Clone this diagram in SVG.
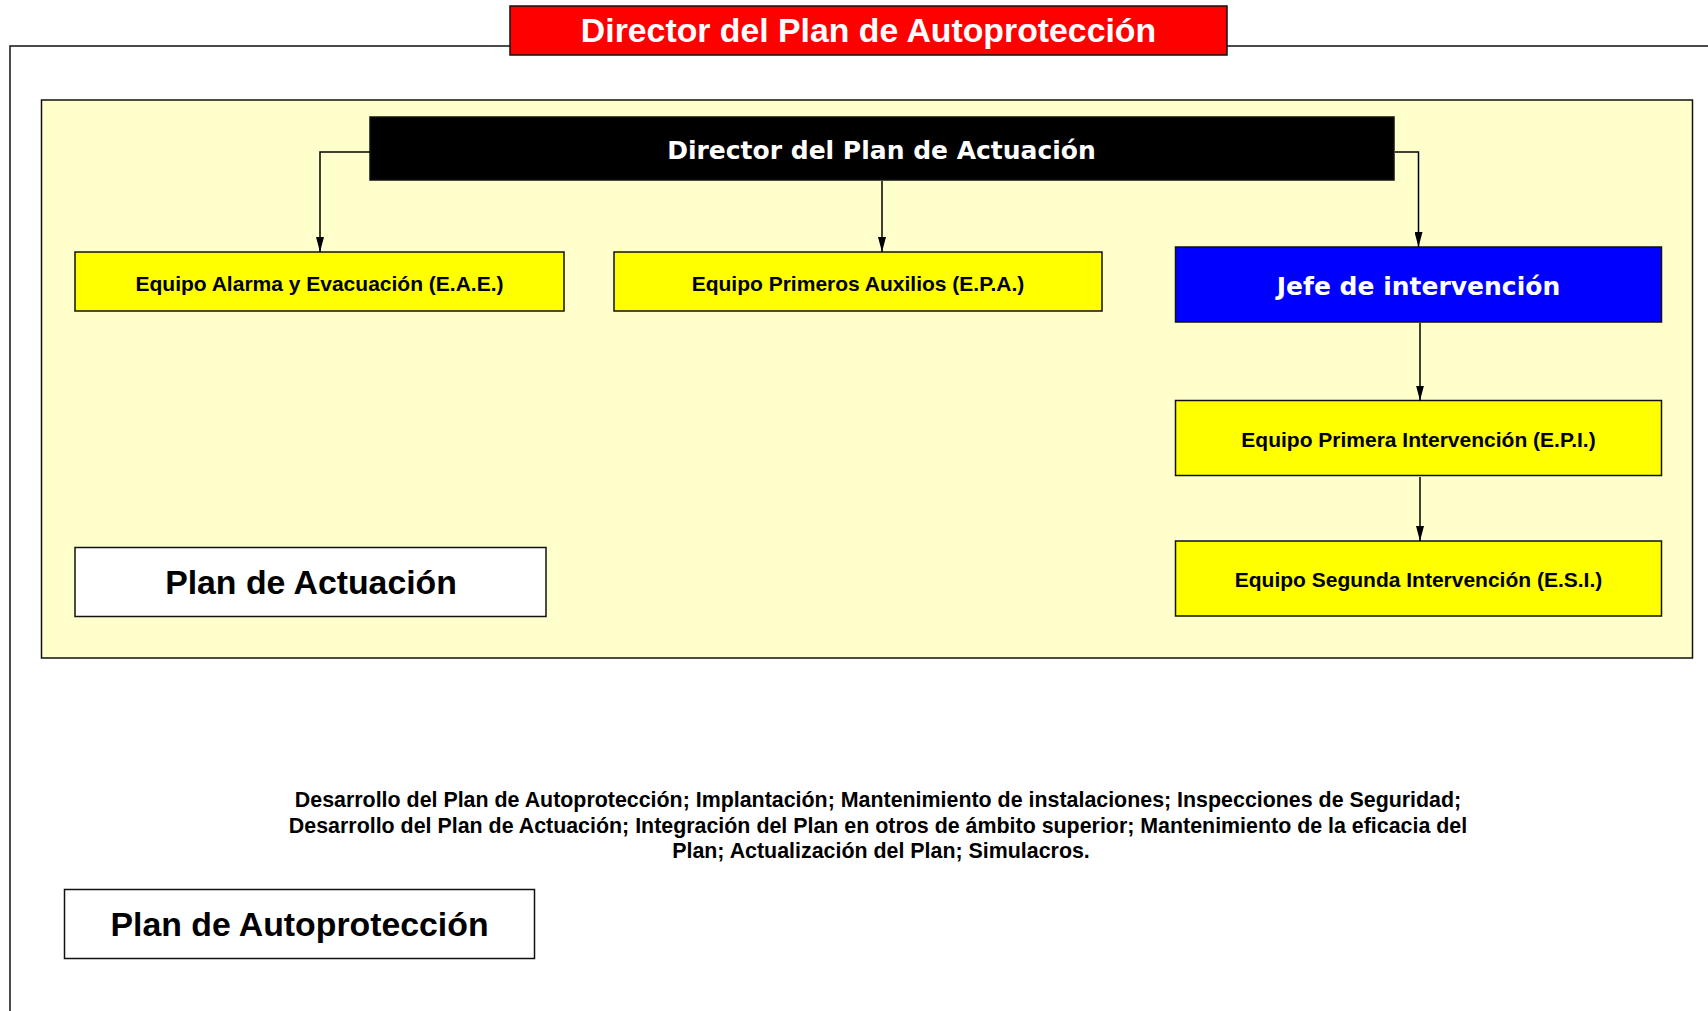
<svg xmlns="http://www.w3.org/2000/svg" width="1708" height="1011" viewBox="0 0 1708 1011">
<style>
.box{stroke:#111;stroke-width:1.5}
.ar{font-family:"Liberation Sans",Arial,sans-serif;font-weight:bold;text-anchor:middle}
.vd{font-family:Verdana,"DejaVu Sans",sans-serif;font-weight:bold;text-anchor:middle;fill:#fff;font-size:25px}
.eq{font-size:21px;fill:#000}
.big{font-size:33.8px;fill:#000}
.conn{fill:none;stroke:#000;stroke-width:1.5}
</style>
<defs>
<marker id="arr" viewBox="0 0 15 8" refX="15" refY="4" markerWidth="15" markerHeight="8" markerUnits="userSpaceOnUse" orient="auto">
<path d="M0 0 L15 4 L0 8 z" fill="#000"/>
</marker>
</defs>
<rect width="1708" height="1011" fill="#fff"/>
<g id="frame-autoproteccion">
<rect x="10" y="46" width="1710" height="1000" fill="none" stroke="#111" stroke-width="1.5"/>
</g>
<g id="frame-actuacion">
<rect x="41.5" y="100" width="1651" height="558" fill="#FFFFCC" class="box"/>
</g>
<g id="director-autoproteccion">
<rect x="510" y="6" width="717" height="49" fill="#FF0000" class="box"/>
<text x="868.5" y="42.3" class="ar" font-size="33.8" fill="#fff">Director del Plan de Autoprotección</text>
</g>
<g id="director-actuacion">
<rect x="370" y="117" width="1024" height="63" fill="#000" class="box"/>
<text x="881.5" y="159" class="vd">Director del Plan de Actuación</text>
</g>
<g id="eae">
<rect x="75" y="252" width="489" height="59" fill="#FFFF00" class="box"/>
<text x="319.5" y="291" class="ar eq">Equipo Alarma y Evacuación (E.A.E.)</text>
</g>
<g id="epa">
<rect x="614" y="252" width="488" height="59" fill="#FFFF00" class="box"/>
<text x="858" y="291" class="ar eq">Equipo Primeros Auxilios (E.P.A.)</text>
</g>
<g id="jefe">
<rect x="1175.5" y="247" width="486" height="75" fill="#0000FF" class="box"/>
<text x="1418.5" y="294.5" class="vd" font-size="25.5">Jefe de intervención</text>
</g>
<g id="epi">
<rect x="1175.5" y="400.5" width="486" height="75" fill="#FFFF00" class="box"/>
<text x="1418.5" y="446.7" class="ar eq">Equipo Primera Intervención (E.P.I.)</text>
</g>
<g id="esi">
<rect x="1175.5" y="541" width="486" height="75" fill="#FFFF00" class="box"/>
<text x="1418.5" y="587.3" class="ar eq">Equipo Segunda Intervención (E.S.I.)</text>
</g>
<g id="plan-actuacion">
<rect x="75" y="547.5" width="471" height="69" fill="#fff" class="box"/>
<text x="311" y="594" class="ar big">Plan de Actuación</text>
</g>
<g id="plan-autoproteccion">
<rect x="64.5" y="889.5" width="470" height="69" fill="#fff" class="box"/>
<text x="299.5" y="935.7" class="ar big">Plan de Autoprotección</text>
</g>
<g id="descripcion">
<text class="ar" font-size="21.4" fill="#000">
<tspan x="881" y="807">Desarrollo del Plan de Autoprotección; Implantación; Mantenimiento de instalaciones; Inspecciones de Seguridad;</tspan>
<tspan x="881" y="832.7">Desarrollo del Plan de Actuación; Integración del Plan en otros de ámbito superior; Mantenimiento de la eficacia del</tspan>
<tspan x="881" y="857.7">Plan; Actualización del Plan; Simulacros.</tspan>
</text>
</g>
<g id="connectors">
<path class="conn" d="M370 152 H320 V252" marker-end="url(#arr)"/>
<path class="conn" d="M882 181 V252" marker-end="url(#arr)"/>
<path class="conn" d="M1395 152 H1418.5 V247" marker-end="url(#arr)"/>
<path class="conn" d="M1420 323 V400.5" marker-end="url(#arr)"/>
<path class="conn" d="M1420 477 V541" marker-end="url(#arr)"/>
</g>
</svg>
